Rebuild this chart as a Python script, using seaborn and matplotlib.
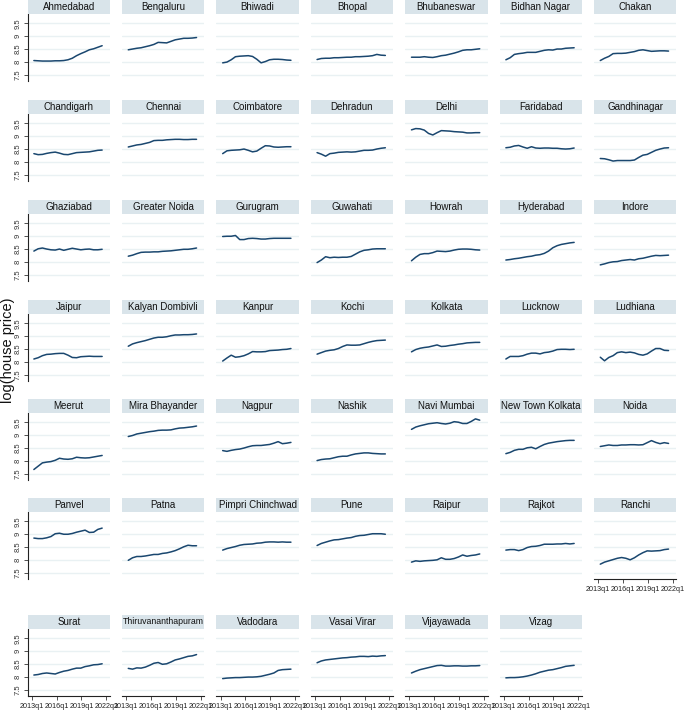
import numpy as np
import pandas as pd
import matplotlib
matplotlib.use("Agg")
import matplotlib.pyplot as plt
from matplotlib.patches import Rectangle
import seaborn as sns

sns.set_style("white")
plt.rcParams['font.family'] = ['Liberation Sans', 'DejaVu Sans']

cities = ["Ahmedabad", "Bengaluru", "Bhiwadi", "Bhopal", "Bhubaneswar", "Bidhan Nagar", "Chakan",
          "Chandigarh", "Chennai", "Coimbatore", "Dehradun", "Delhi", "Faridabad", "Gandhinagar",
          "Ghaziabad", "Greater Noida", "Gurugram", "Guwahati", "Howrah", "Hyderabad", "Indore",
          "Jaipur", "Kalyan Dombivli", "Kanpur", "Kochi", "Kolkata", "Lucknow", "Ludhiana",
          "Meerut", "Mira Bhayander", "Nagpur", "Nashik", "Navi Mumbai", "New Town Kolkata", "Noida",
          "Panvel", "Patna", "Pimpri Chinchwad", "Pune", "Raipur", "Rajkot", "Ranchi",
          "Surat", "Thiruvananthapuram", "Vadodara", "Vasai Virar", "Vijayawada", "Vizag"]

ahmedabad = [8.05, 8.04, 8.03, 8.03, 8.03, 8.04, 8.04, 8.05, 8.08, 8.14, 8.24, 8.32, 8.39, 8.47, 8.51, 8.57, 8.63]
bengaluru = [8.47, 8.50, 8.53, 8.55, 8.59, 8.63, 8.68, 8.76, 8.75, 8.74, 8.80, 8.86, 8.89, 8.92, 8.92, 8.93, 8.95]
bhiwadi = [7.96, 7.99, 8.08, 8.20, 8.22, 8.23, 8.24, 8.21, 8.10, 7.96, 8.01, 8.08, 8.10, 8.10, 8.09, 8.07, 8.06]
bhopal = [8.09, 8.13, 8.14, 8.14, 8.16, 8.16, 8.17, 8.18, 8.18, 8.20, 8.20, 8.21, 8.22, 8.24, 8.29, 8.26, 8.25]
bhubaneswar = [8.18, 8.18, 8.18, 8.20, 8.18, 8.17, 8.20, 8.24, 8.26, 8.30, 8.34, 8.39, 8.45, 8.47, 8.47, 8.49, 8.51]
bidhan_nagar = [8.08, 8.16, 8.29, 8.32, 8.34, 8.37, 8.37, 8.37, 8.41, 8.45, 8.47, 8.46, 8.50, 8.50, 8.53, 8.54, 8.55]
chakan = [8.05, 8.14, 8.21, 8.32, 8.33, 8.33, 8.34, 8.37, 8.40, 8.45, 8.47, 8.44, 8.41, 8.42, 8.43, 8.43, 8.42]

chandigarh = [8.32, 8.28, 8.29, 8.33, 8.36, 8.38, 8.34, 8.29, 8.28, 8.32, 8.36, 8.37, 8.38, 8.39, 8.42, 8.45, 8.46]
chennai = [8.58, 8.62, 8.66, 8.68, 8.72, 8.76, 8.83, 8.84, 8.84, 8.86, 8.87, 8.88, 8.88, 8.87, 8.87, 8.88, 8.88]
coimbatore = [8.32, 8.43, 8.45, 8.46, 8.47, 8.50, 8.45, 8.39, 8.42, 8.53, 8.63, 8.62, 8.58, 8.57, 8.58, 8.59, 8.59]
dehradun = [8.36, 8.30, 8.22, 8.32, 8.34, 8.37, 8.38, 8.39, 8.38, 8.39, 8.42, 8.45, 8.45, 8.46, 8.50, 8.53, 8.55]
delhi = [9.25, 9.30, 9.29, 9.24, 9.11, 9.05, 9.14, 9.22, 9.21, 9.20, 9.18, 9.17, 9.16, 9.13, 9.13, 9.14, 9.14]
faridabad = [8.55, 8.57, 8.62, 8.64, 8.58, 8.53, 8.59, 8.54, 8.53, 8.54, 8.54, 8.53, 8.53, 8.51, 8.50, 8.51, 8.54]
gandhinagar = [8.13, 8.12, 8.08, 8.03, 8.05, 8.05, 8.05, 8.05, 8.07, 8.17, 8.26, 8.29, 8.37, 8.45, 8.50, 8.54, 8.55]

ghaziabad = [8.42, 8.51, 8.54, 8.50, 8.47, 8.46, 8.50, 8.45, 8.49, 8.53, 8.50, 8.47, 8.49, 8.50, 8.47, 8.47, 8.49]
greater_noida = [8.22, 8.26, 8.32, 8.37, 8.38, 8.38, 8.39, 8.39, 8.41, 8.42, 8.43, 8.45, 8.47, 8.49, 8.49, 8.51, 8.54]
gurugram = [8.99, 9.00, 9.00, 9.03, 8.87, 8.87, 8.91, 8.92, 8.91, 8.89, 8.89, 8.91, 8.92, 8.92, 8.92, 8.92, 8.92]
guwahati = [7.97, 8.07, 8.20, 8.16, 8.18, 8.17, 8.18, 8.18, 8.21, 8.30, 8.39, 8.45, 8.47, 8.50, 8.51, 8.51, 8.51]
howrah = [8.04, 8.18, 8.29, 8.32, 8.32, 8.36, 8.42, 8.41, 8.40, 8.42, 8.46, 8.49, 8.50, 8.50, 8.49, 8.47, 8.46]
hyderabad = [8.07, 8.09, 8.12, 8.14, 8.17, 8.20, 8.22, 8.26, 8.28, 8.33, 8.42, 8.55, 8.63, 8.68, 8.71, 8.74, 8.76]
indore = [7.88, 7.92, 7.97, 8.00, 8.01, 8.05, 8.07, 8.09, 8.07, 8.12, 8.14, 8.18, 8.22, 8.25, 8.24, 8.25, 8.26]

jaipur = [8.11, 8.16, 8.24, 8.29, 8.30, 8.32, 8.33, 8.33, 8.26, 8.17, 8.16, 8.20, 8.21, 8.22, 8.21, 8.21, 8.21]
kalyan_dombivli = [8.61, 8.70, 8.75, 8.79, 8.83, 8.88, 8.93, 8.96, 8.96, 8.98, 9.02, 9.05, 9.05, 9.06, 9.06, 9.07, 9.09]
kanpur = [8.03, 8.15, 8.26, 8.18, 8.20, 8.24, 8.31, 8.40, 8.39, 8.39, 8.40, 8.44, 8.45, 8.46, 8.48, 8.49, 8.52]
kochi = [8.30, 8.36, 8.42, 8.45, 8.47, 8.52, 8.60, 8.66, 8.65, 8.65, 8.66, 8.71, 8.76, 8.80, 8.83, 8.84, 8.85]
kolkata = [8.39, 8.48, 8.53, 8.56, 8.58, 8.62, 8.66, 8.60, 8.61, 8.64, 8.66, 8.69, 8.71, 8.74, 8.75, 8.76, 8.76]
lucknow = [8.11, 8.21, 8.21, 8.21, 8.24, 8.30, 8.34, 8.34, 8.31, 8.36, 8.38, 8.42, 8.48, 8.49, 8.49, 8.48, 8.49]
ludhiana = [8.18, 8.04, 8.17, 8.24, 8.36, 8.39, 8.36, 8.38, 8.35, 8.29, 8.26, 8.31, 8.42, 8.52, 8.52, 8.45, 8.44]

meerut = [7.66, 7.79, 7.92, 7.95, 7.97, 8.02, 8.10, 8.07, 8.06, 8.08, 8.14, 8.12, 8.11, 8.12, 8.15, 8.18, 8.21]
mira_bhayander = [8.95, 8.99, 9.05, 9.08, 9.11, 9.14, 9.16, 9.19, 9.20, 9.20, 9.21, 9.25, 9.28, 9.29, 9.31, 9.33, 9.36]
nagpur = [8.40, 8.37, 8.41, 8.44, 8.46, 8.50, 8.55, 8.59, 8.60, 8.60, 8.62, 8.64, 8.69, 8.75, 8.67, 8.69, 8.72]
nashik = [8.01, 8.05, 8.07, 8.08, 8.12, 8.16, 8.18, 8.18, 8.23, 8.27, 8.29, 8.31, 8.31, 8.29, 8.28, 8.27, 8.27]
navi_mumbai = [9.23, 9.32, 9.37, 9.41, 9.45, 9.47, 9.49, 9.46, 9.44, 9.47, 9.53, 9.51, 9.46, 9.46, 9.54, 9.64, 9.59]
new_town_kolkata = [8.28, 8.33, 8.41, 8.45, 8.45, 8.51, 8.53, 8.47, 8.56, 8.64, 8.69, 8.72, 8.75, 8.77, 8.79, 8.80, 8.80]
noida = [8.56, 8.59, 8.62, 8.60, 8.60, 8.62, 8.62, 8.63, 8.63, 8.62, 8.63, 8.71, 8.79, 8.72, 8.67, 8.71, 8.68]

panvel = [8.85, 8.83, 8.83, 8.86, 8.91, 9.02, 9.04, 9.00, 9.00, 9.03, 9.08, 9.12, 9.16, 9.07, 9.08, 9.19, 9.24]
patna = [7.98, 8.08, 8.13, 8.13, 8.15, 8.18, 8.21, 8.21, 8.25, 8.27, 8.31, 8.36, 8.43, 8.51, 8.57, 8.55, 8.55]
pimpri_chinchwad = [8.38, 8.44, 8.48, 8.52, 8.57, 8.60, 8.61, 8.62, 8.65, 8.66, 8.69, 8.70, 8.70, 8.69, 8.70, 8.69, 8.69]
pune = [8.56, 8.64, 8.69, 8.74, 8.78, 8.79, 8.82, 8.85, 8.87, 8.92, 8.95, 8.96, 8.99, 9.02, 9.02, 9.02, 9.00]
raipur = [7.91, 7.96, 7.94, 7.96, 7.97, 7.98, 8.00, 8.08, 8.02, 8.02, 8.05, 8.11, 8.19, 8.14, 8.17, 8.19, 8.23]
rajkot = [8.38, 8.40, 8.40, 8.36, 8.40, 8.48, 8.52, 8.53, 8.56, 8.61, 8.61, 8.61, 8.62, 8.62, 8.64, 8.62, 8.64]
ranchi = [7.83, 7.91, 7.96, 8.01, 8.06, 8.09, 8.06, 8.00, 8.08, 8.19, 8.28, 8.35, 8.34, 8.35, 8.36, 8.40, 8.42]

surat = [8.07, 8.09, 8.13, 8.15, 8.13, 8.11, 8.17, 8.22, 8.25, 8.30, 8.34, 8.34, 8.40, 8.43, 8.47, 8.48, 8.51]
thiruvananthapuram = [8.33, 8.30, 8.35, 8.34, 8.38, 8.45, 8.53, 8.56, 8.49, 8.51, 8.58, 8.66, 8.70, 8.75, 8.80, 8.82, 8.87]
vadodara = [7.93, 7.95, 7.96, 7.97, 7.97, 7.98, 7.99, 7.99, 8.00, 8.02, 8.06, 8.10, 8.15, 8.25, 8.28, 8.29, 8.30]
vasai_virar = [8.55, 8.62, 8.66, 8.68, 8.70, 8.72, 8.74, 8.75, 8.77, 8.78, 8.80, 8.80, 8.79, 8.81, 8.80, 8.82, 8.83]
vijayawada = [8.15, 8.22, 8.28, 8.32, 8.36, 8.40, 8.44, 8.45, 8.42, 8.42, 8.43, 8.43, 8.42, 8.42, 8.43, 8.43, 8.44]
vizag = [7.96, 7.97, 7.97, 7.98, 8.00, 8.03, 8.07, 8.12, 8.18, 8.22, 8.26, 8.28, 8.32, 8.36, 8.41, 8.43, 8.45]

series = [ahmedabad, bengaluru, bhiwadi, bhopal, bhubaneswar, bidhan_nagar, chakan,
          chandigarh, chennai, coimbatore, dehradun, delhi, faridabad, gandhinagar,
          ghaziabad, greater_noida, gurugram, guwahati, howrah, hyderabad, indore,
          jaipur, kalyan_dombivli, kanpur, kochi, kolkata, lucknow, ludhiana,
          meerut, mira_bhayander, nagpur, nashik, navi_mumbai, new_town_kolkata, noida,
          panvel, patna, pimpri_chinchwad, pune, raipur, rajkot, ranchi,
          surat, thiruvananthapuram, vadodara, vasai_virar, vijayawada, vizag]

# time axis: 2013q2 .. 2021q3 (year + (q-1)/4)
t = np.linspace(2013.25, 2021.5, 17)
x_ticks = [2013, 2016, 2019, 2022]
x_labels = ["2013q1", "2016q1", "2019q1", "2022q1"]
y_ticks = [7.5, 8, 8.5, 9, 9.5]
y_labels = ["7.5", "8", "8.5", "9", "9.5"]

df = pd.DataFrame({
    "city": np.repeat(cities, len(t)),
    "t": np.tile(t, len(cities)),
    "v": np.concatenate([np.array(s, dtype=float) for s in series]),
})

W, H = 685, 714
fig = plt.figure(figsize=(W / 100, H / 100), dpi=100)
fig.patch.set_facecolor("white")

row_text = [7, 107, 207, 307, 406, 505, 622]
LINE = "#1a476f"
GRID = "#e9f1f3"
STRIP = "#d9e4ea"
ncol = 7
nrow = 7
PANEL_W = 82.5
LEFT0 = 27.5
PITCH = 94.4

titles = []
for i, city in enumerate(cities):
    r, c = divmod(i, ncol)
    T = row_text[r]
    left = LEFT0 + PITCH * c
    top = T + 7
    bottom = T + 74
    ax = fig.add_axes([left / W, 1 - bottom / H, PANEL_W / W, (bottom - top) / H])
    sub = df[df["city"] == city]
    sns.lineplot(data=sub, x="t", y="v", ax=ax, color=LINE, linewidth=1.1, legend=False)
    ax.set_xlim(2012.48, 2022.45)
    ax.set_ylim(7.25, 9.87)
    ax.set_xlabel("")
    ax.set_ylabel("")
    for yv in y_ticks:
        ax.axhline(yv, color=GRID, linewidth=1.0, zorder=0)
    for s in ["top", "right"]:
        ax.spines[s].set_visible(False)
    has_x = (r == nrow - 1) or (i + ncol >= len(cities))
    if c == 0:
        ax.spines["left"].set_color("#222222")
        ax.spines["left"].set_linewidth(0.8)
        ax.set_yticks(y_ticks)
        ax.set_yticklabels(y_labels, rotation=90, va="center", fontsize=5.5, color="#333333")
        ax.tick_params(axis="y", direction="out", length=3, width=0.6, pad=1.5, left=True, color="#333333")
    else:
        ax.spines["left"].set_visible(False)
        ax.set_yticks([])
    if has_x:
        ax.spines["bottom"].set_color("#222222")
        ax.spines["bottom"].set_linewidth(0.8)
        ax.set_xticks(x_ticks)
        ax.set_xticklabels(x_labels, fontsize=5.2, color="#222222")
        ax.tick_params(axis="x", direction="out", length=3, width=0.6, pad=2, bottom=True, color="#333333")
    else:
        ax.spines["bottom"].set_visible(False)
        ax.set_xticks([])
    hh = 14 / (bottom - top)
    ax.add_patch(Rectangle((0, 1), 1, hh, transform=ax.transAxes, facecolor=STRIP,
                           edgecolor="none", clip_on=False, zorder=3))
    titles.append(ax.text(0.5, 1 + hh / 2, city, transform=ax.transAxes, ha="center", va="center",
                          fontsize=7, color="#111111", zorder=4))

fig.text(8 / W, 1 - 350 / H, "log(house price)", rotation=90, ha="center", va="center",
         fontsize=10.5, color="#111111")

# shrink any strip title that would not fit in its box
fig.canvas.draw()
renderer = fig.canvas.get_renderer()
for txt in titles:
    w = txt.get_window_extent(renderer).width
    if w > PANEL_W - 2:
        txt.set_fontsize(7 * (PANEL_W - 2) / w)

fig.savefig("out.png", dpi=100, facecolor="white")
